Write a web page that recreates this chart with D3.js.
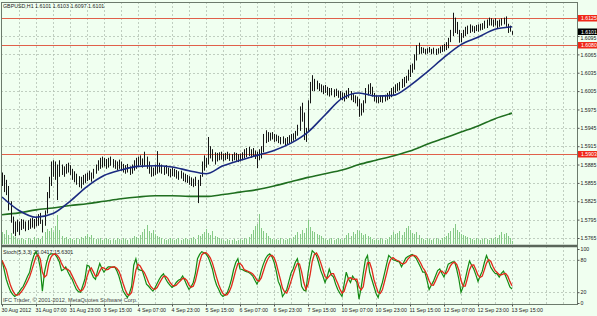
<!DOCTYPE html>
<html>
<head>
<meta charset="utf-8">
<script src="https://cdn.jsdelivr.net/npm/d3@7"></script>
<style>
body{margin:0;background:#f0fff0;}
svg{display:block;font-family:"Liberation Sans",Arial,sans-serif;}
</style>
</head>
<body>
<script>
// GBPUSD H1, bar 0 = 30 Aug 2012 15:00. prices in pips above 1.5700
var barLow = [
150,140,135,110,90,72,68,75,70,78, 80,76,78,80,82,80,84,85,88,74,
85,105,130,150,165,160,127,165,168,165, 170,172,168,160,156,152,148,146,152,155,
158,160,157,162,170,175,178,180,182,178, 180,183,180,178,176,178,175,172,170,172,
168,170,175,178,182,184,180,183,178,170, 165,166,168,170,172,170,168,170,166,164,
166,165,162,160,162,158,156,155,152,150, 148,150,122,150,165,175,180,185,195,190,
185,190,192,193,190,192,194,191,190,192, 191,189,190,192,195,197,199,196,198,194,
179,192,195,205,220,222,224,226,222,223, 220,218,219,216,218,220,222,224,226,232,
240,255,225,222,240,285,305,305,308,305, 303,300,302,298,296,298,295,297,294,292,
290,288,292,294,290,287,285,280,263,265, 270,285,298,300,296,288,286,285,287,286,
288,290,292,295,298,302,305,306,310,312, 318,322,328,335,340,355,365,366,367,365,
366,368,365,366,364,366,367,369,370,372, 375,385,395,400,398,384,385,392,395,398,
400,402,400,403,402,404,405,407,408,412, 412,410,412,408,410,412,414,410,400,402,
397];
var barHigh = [
172,168,160,150,125,100,92,95,92,96, 95,92,94,97,98,96,100,104,106,95,
110,140,165,190,192,190,185,192,185,182, 186,188,184,178,174,170,166,165,168,170,
172,175,172,178,185,192,196,198,196,194, 196,198,194,192,190,193,190,186,184,186,
182,185,192,196,198,200,195,206,198,190, 182,180,185,207,188,185,182,184,180,178,
180,178,176,174,175,172,170,168,166,164, 162,165,160,168,190,200,196,230,215,210,
205,204,205,206,203,204,206,203,202,205, 204,202,203,205,210,212,214,210,212,208,
206,210,215,235,241,238,237,238,235,234, 232,230,231,228,230,233,235,236,240,250,
280,286,270,245,290,320,331,325,322,318, 316,314,315,312,310,310,308,309,306,305,
303,302,306,310,305,300,298,296,292,285, 290,310,316,318,312,302,298,296,298,297,
299,302,305,310,312,316,318,320,325,328, 330,340,348,350,365,380,384,377,376,374,
375,377,374,376,374,375,378,380,382,385, 392,405,433,425,418,405,400,405,410,412,
414,412,411,413,414,415,416,420,422,425, 424,422,424,420,422,424,425,427,415,412,
403];
var volumes = [
1200,1000,1400,900,1100,800,700,500,400,600, 500,400,600,500,400,700,500,600,500,800,
1200,1500,1300,1600,1200,1800,2900,1400,800,600, 700,500,600,500,400,600,500,700,600,800,
1000,700,900,600,500,500,600,400,500,600, 500,400,500,400,600,500,400,600,500,400,
500,600,800,700,600,900,1200,1500,1900,1300, 1100,1400,1000,800,700,600,500,400,500,600,
500,400,500,600,400,500,600,500,400,600, 700,500,900,800,1000,1200,1500,1100,900,1300,
800,700,600,500,400,300,500,400,400,500, 300,400,500,400,600,500,700,1000,1400,1800,
2000,3000,1600,1300,1100,800,600,500,400,500, 400,600,500,400,500,600,500,700,900,1200,
1000,1400,1100,1600,2400,1700,1300,1200,1000,900, 800,600,500,400,500,600,400,500,600,500,
400,600,900,1100,800,1200,1000,1400,1300,1100, 900,1000,800,700,500,400,500,400,600,500,
400,500,700,900,1200,1000,1100,1300,900,1200, 1600,1800,1400,1100,1000,1200,900,600,500,400,
600,500,400,500,600,500,400,600,700,800, 1100,1300,1600,2000,1400,1200,1000,900,800,700,
600,500,400,600,500,400,500,600,500,400, 600,500,700,600,900,1200,1000,1100,800,600,
300];
var stochMain = [
79,62,44,32,22,16,12,15,20,26, 31,40,49,57,75,88,95,85,65,22,
57,75,88,91,91,90,84,76,60,62, 67,58,50,44,34,25,21,20,32,44,
70,68,57,48,44,60,73,64,57,63, 67,67,66,67,60,50,36,22,16,10,
18,31,70,82,63,61,60,48,35,31, 26,22,28,36,44,50,54,45,38,33,
29,32,38,42,44,50,42,33,25,30, 38,55,82,90,95,93,91,85,75,63,
45,33,25,16,12,15,19,30,44,62, 75,82,63,62,60,58,57,54,50,42,
35,44,60,72,82,88,91,86,76,60, 40,31,12,18,25,40,55,63,75,82,
60,31,24,22,55,80,97,93,88,75, 60,50,38,48,63,52,48,35,25,18,
12,35,57,45,38,50,44,38,7,28, 55,80,88,57,44,31,18,10,25,38,
55,72,88,84,80,79,77,76,67,75, 83,86,88,90,87,82,74,66,57,57,
42,25,33,40,50,60,63,55,48,60, 72,74,76,76,62,44,20,30,44,62,
78,70,63,52,40,50,59,75,88,78, 66,60,55,54,48,55,59,50,40,30,
26];
// moving averages read every 8 bars
var maIdx = [0,8,16,24,32,40,48,56,64,72,80,88,96,104,112,120,128,136,144,152,160,168,176,184,192,200,208,216,224,232,240];
var maFast = [132,110,99,105,125,149,167,176,182,183,181,175,170,183,192,200,208,220,238,266,293,302,297,298,314,336,360,381,393,406,410];
var maSlow = [103,106,111,114,118,121,125,129,132,134,134,133,133,136,140,144,150,157,164,170,176,185,192,199,207,218,228,238,248,260,269];

var timeTicks = [0,16,32,48,64,80,96,112,128,144,160,176,192,208,224,240];
var timeLabels = ["30 Aug 2012","31 Aug 07:00","31 Aug 23:00","3 Sep 15:00","4 Sep 07:00","4 Sep 23:00",
  "5 Sep 15:00","6 Sep 07:00","6 Sep 23:00","7 Sep 15:00","10 Sep 07:00","10 Sep 23:00",
  "11 Sep 15:00","12 Sep 07:00","12 Sep 23:00","13 Sep 15:00"];
var priceTicks = [1.5765,1.5795,1.5825,1.5855,1.5885,1.5915,1.5945,1.5975,1.6005,1.6035,1.6065,1.6095];
var levels = [1.6125,1.6080,1.5903];
var lastPrice = 1.6101;
var stochLevels = [0,20,80,100];

var W = 597, H = 316,
    left = 1, right = 577,
    mainTop = 2, mainBottom = 245,
    stochTop = 248, stochBottom = 304;

function px(p){ return 1.57 + p/10000; }

var x = d3.scaleLinear().domain([0,240]).range([2,512]);
var y = d3.scaleLinear().domain([1.5765,1.6095]).range([238,36]);
var ys = d3.scaleLinear().domain([0,100]).range([303,249]);
var yv = d3.scaleLinear().domain([0,3000]).range([244,214]);

var svg = d3.select("body").append("svg").attr("width",W).attr("height",H);
svg.append("rect").attr("width",W).attr("height",H).attr("fill","#f0fff0");

// grid
var gridIdx = d3.range(8,271,8);
var grid = svg.append("g").attr("stroke","#b4c2b4").attr("stroke-width",0.8).attr("stroke-dasharray","2,2");
grid.selectAll("line.v").data(gridIdx).enter().append("line")
  .attr("x1",function(d){return Math.round(x(d))+0.5;}).attr("x2",function(d){return Math.round(x(d))+0.5;})
  .attr("y1",mainTop).attr("y2",stochBottom);
grid.selectAll("line.h").data(priceTicks).enter().append("line")
  .attr("x1",left).attr("x2",right)
  .attr("y1",function(d){return Math.round(y(d))+0.5;}).attr("y2",function(d){return Math.round(y(d))+0.5;});
grid.selectAll("line.s").data([20,80]).enter().append("line")
  .attr("x1",left).attr("x2",right)
  .attr("y1",function(d){return Math.round(ys(d))+0.5;}).attr("y2",function(d){return Math.round(ys(d))+0.5;});

// volumes
svg.append("g").selectAll("line").data(volumes).enter().append("line")
  .attr("x1",function(d,i){return Math.round(x(i))+0.5;}).attr("x2",function(d,i){return Math.round(x(i))+0.5;})
  .attr("y1",yv(0)).attr("y2",function(d){return yv(d);})
  .attr("stroke","#86c986").attr("stroke-width",1);

// level lines
svg.append("g").selectAll("line").data(levels).enter().append("line")
  .attr("x1",left).attr("x2",right)
  .attr("y1",function(d){return Math.round(y(d))+0.5;}).attr("y2",function(d){return Math.round(y(d))+0.5;})
  .attr("stroke","#e0604a").attr("stroke-width",1);

// moving averages
var maLine = function(vals){
  return d3.line().x(function(d,i){return x(maIdx[i]);}).y(function(d){return y(px(d));})
    .curve(d3.curveMonotoneX)(vals);
};
svg.append("path").attr("d",maLine(maSlow)).attr("fill","none").attr("stroke","#1f6e1f").attr("stroke-width",1.6);

// price bars
svg.append("g").selectAll("line").data(barLow).enter().append("line")
  .attr("x1",function(d,i){return Math.round(x(i))+0.5;}).attr("x2",function(d,i){return Math.round(x(i))+0.5;})
  .attr("y1",function(d){return y(px(d));}).attr("y2",function(d,i){return y(px(barHigh[i]));})
  .attr("stroke","#151515").attr("stroke-width",1);

svg.append("path").attr("d",maLine(maFast)).attr("fill","none").attr("stroke","#1a2a80").attr("stroke-width",1.6);

// stochastic
var stochSig = stochMain.map(function(d,i){
  var s = stochMain.slice(Math.max(0,i-2), i+1);
  return d3.mean(s);
});
svg.append("text").attr("x",3).attr("y",254).attr("font-size",5.3).attr("fill","#222")
  .text("Stoch(5,3,3) 26.0417 15.6301");
svg.append("text").attr("x",3).attr("y",302).attr("font-size",5.6).attr("fill","#444")
  .text("IFC Trader, \u00a9 2001-2012, MetaQuotes Software Corp.");
var sLine = d3.line().x(function(d,i){return x(i);}).y(function(d){return ys(d);});
svg.append("path").attr("d",sLine(stochMain)).attr("fill","none").attr("stroke","#138a13").attr("stroke-width",1.2);
svg.append("path").attr("d",sLine(stochSig)).attr("fill","none").attr("stroke","#e02a1a").attr("stroke-width",1.3);

// frames
svg.append("rect").attr("x",left+0.5).attr("y",mainTop+0.5).attr("width",right-left).attr("height",stochBottom-mainTop)
  .attr("fill","none").attr("stroke","#6c7a6c").attr("stroke-width",1);
svg.append("line").attr("x1",left).attr("x2",right).attr("y1",246).attr("y2",246)
  .attr("stroke","#5a665a").attr("stroke-width",2.5);

// price axis
var yAxis = d3.axisRight(y).tickValues(priceTicks).tickFormat(d3.format(".4f")).tickSize(2).tickPadding(1);
var ga = svg.append("g").attr("transform","translate("+(right+0.5)+",0)").call(yAxis);
ga.select(".domain").remove();
ga.selectAll("text").attr("font-size",5.2).attr("fill","#222").attr("font-family","Liberation Sans, Arial, sans-serif")
  .attr("dy",function(d){return d===1.6095 ? "0.7em" : "0.32em";});
ga.selectAll("line").attr("stroke","#555");

var sAxis = d3.axisRight(ys).tickValues(stochLevels).tickFormat(d3.format("d")).tickSize(2).tickPadding(1);
var gs = svg.append("g").attr("transform","translate("+(right+0.5)+",0)").call(sAxis);
gs.select(".domain").remove();
gs.selectAll("text").attr("font-size",5.2).attr("fill","#222").attr("font-family","Liberation Sans, Arial, sans-serif");
gs.selectAll("line").attr("stroke","#555");

// price tags
var tags = svg.append("g");
levels.forEach(function(l){
  tags.append("rect").attr("x",right+1).attr("y",Math.round(y(l))-3).attr("width",W-right-1).attr("height",6.5).attr("fill","#f02818");
  tags.append("text").attr("x",right+4).attr("y",Math.round(y(l))+2).attr("font-size",5.2).attr("fill","#fff").text(l.toFixed(4));
});
tags.append("rect").attr("x",right+1).attr("y",Math.round(y(lastPrice))-3.5).attr("width",W-right-1).attr("height",6.5).attr("fill","#000");
tags.append("text").attr("x",right+4).attr("y",Math.round(y(lastPrice))+1.5).attr("font-size",5.2).attr("fill","#fff").text(lastPrice.toFixed(4));

// time axis
var xAxis = d3.axisBottom(x).tickValues(timeTicks).tickFormat(function(d,i){return timeLabels[i];}).tickSize(2).tickPadding(2);
var gx = svg.append("g").attr("transform","translate(0,"+(stochBottom+0.5)+")").call(xAxis);
gx.select(".domain").remove();
gx.selectAll("text").attr("font-size",5.3).attr("fill","#222").attr("text-anchor","start").attr("dx",-1)
  .attr("font-family","Liberation Sans, Arial, sans-serif");
gx.selectAll("line").attr("stroke","#555");

// title
svg.append("text").attr("x",3).attr("y",8).attr("font-size",5.3).attr("fill","#222")
  .text("GBPUSD,H1  1.6101 1.6103 1.6097 1.6101");
</script>
</body>
</html>
